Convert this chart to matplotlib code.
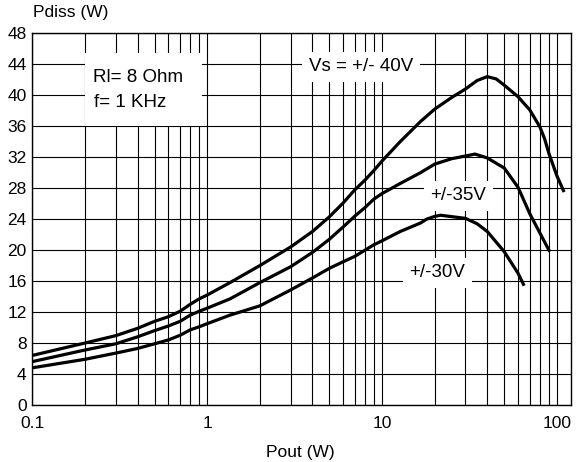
import matplotlib.pyplot as plt
from matplotlib.patches import Rectangle

# -- Data (Pout in W, Pdiss in W) --------------------------------------------
x_40v = [0.1, 0.2, 0.3, 0.4, 0.5, 0.6, 0.7, 0.8, 0.9, 1, 1.35, 2, 3, 4, 5, 6, 7, 8, 9, 10,
         12.7, 16.6, 20, 25, 30, 35, 40, 45, 50, 60, 70, 80, 85, 90, 100, 110]
y_40v = [6.4, 8.0, 8.95, 9.9, 10.8, 11.4, 12.1, 13.0, 13.7, 14.2, 15.8, 18.0, 20.4, 22.4, 24.3,
         26.1, 27.8, 29.05, 30.3, 31.5, 34.0, 36.6, 38.2, 39.7, 40.8, 41.9, 42.4, 42.1, 41.3,
         39.8, 38.1, 35.9, 34.4, 32.5, 29.6, 27.5]

x_35v = [0.1, 0.2, 0.3, 0.4, 0.5, 0.6, 0.7, 0.8, 0.9, 1, 1.35, 2, 3, 4, 5, 6, 7, 8, 9, 10,
         12.7, 16.6, 20, 25, 30, 34, 40, 50, 60, 66, 70, 80, 91]
y_35v = [5.6, 7.1, 7.9, 8.8, 9.6, 10.2, 10.8, 11.6, 12.1, 12.5, 13.7, 15.8, 17.85, 19.7, 21.4,
         23.0, 24.4, 25.5, 26.6, 27.3, 28.6, 30.0, 31.1, 31.8, 32.15, 32.4, 31.9, 30.6, 28.1,
         26.0, 24.7, 22.2, 19.8]

x_30v = [0.1, 0.2, 0.3, 0.4, 0.5, 0.6, 0.7, 0.8, 0.9, 1, 1.35, 2, 3, 4, 5, 6, 7, 8, 9, 10,
         12.7, 16.6, 18, 20, 21.6, 30, 35, 40, 50, 60, 65]
y_30v = [4.8, 5.9, 6.7, 7.3, 7.9, 8.4, 9.0, 9.7, 10.1, 10.5, 11.6, 12.8, 14.85, 16.4, 17.65,
         18.5, 19.2, 20.0, 20.7, 21.2, 22.4, 23.5, 24.0, 24.35, 24.5, 24.1, 23.4, 22.4, 19.8,
         17.0, 15.4]

x_ticks = [0.1, 1, 10, 100]
x_tick_labels = ["0.1", "1", "10", "100"]
y_ticks = list(range(0, 49, 4))

plt.rcParams["font.family"] = ["Liberation Sans", "DejaVu Sans"]

fig = plt.figure(figsize=(5.81, 4.62), dpi=100)
ax = fig.add_axes([0.0556, 0.1234, 0.9267, 0.8046])

ax.set_xscale("log")
ax.set_xlim(0.1, 120)
ax.set_ylim(0, 48)
ax.set_xticks(x_ticks)
ax.set_xticklabels(x_tick_labels)
ax.set_yticks(y_ticks)
ax.tick_params(which="both", length=0, labelsize=12.5, colors="black")
ax.tick_params(axis="x", pad=8)
ax.tick_params(axis="y", pad=4)
ax.xaxis.set_minor_formatter(plt.NullFormatter())
ax.grid(which="both", color="black", lw=0.8)
ax.set_axisbelow(True)
for s in ax.spines.values():
    s.set_linewidth(1.0)
    s.set_color("black")

# curves
for xs, ys in [(x_40v, y_40v), (x_35v, y_35v), (x_30v, y_30v)]:
    ax.plot(xs, ys, color="black", lw=2.3, solid_capstyle="butt", zorder=4)

# info box
ax.add_patch(Rectangle((0.2, 36), 0.936 - 0.2, 45.45 - 36, facecolor="white",
                       edgecolor="none", zorder=1.5))
ax.text(0.222, 42.35, "Rl= 8 Ohm", fontsize=13.5, ha="left", va="center", zorder=3)
ax.text(0.224, 39.1, "f= 1 KHz", fontsize=13.5, ha="left", va="center", zorder=3)

# curve labels
box = dict(boxstyle="square,pad=0.35", facecolor="white", edgecolor="none")
ax.text(7.6, 43.7, "Vs = +/- 40V", fontsize=13.5, ha="center", va="center", bbox=box, zorder=3)
ax.text(27.3, 27.0, "+/-35V", fontsize=13.5, ha="center", va="center", bbox=box, zorder=3)
ax.text(20.7, 17.05, "+/-30V", fontsize=13.5, ha="center", va="center", bbox=box, zorder=3)

fig.text(33 / 581, 1 - 13 / 462, "Pdiss (W)", fontsize=12.5, ha="left", va="center")
fig.text(300 / 581, 1 - 452 / 462, "Pout (W)", fontsize=12.5, ha="center", va="center")

fig.savefig("out.png", dpi=100)
